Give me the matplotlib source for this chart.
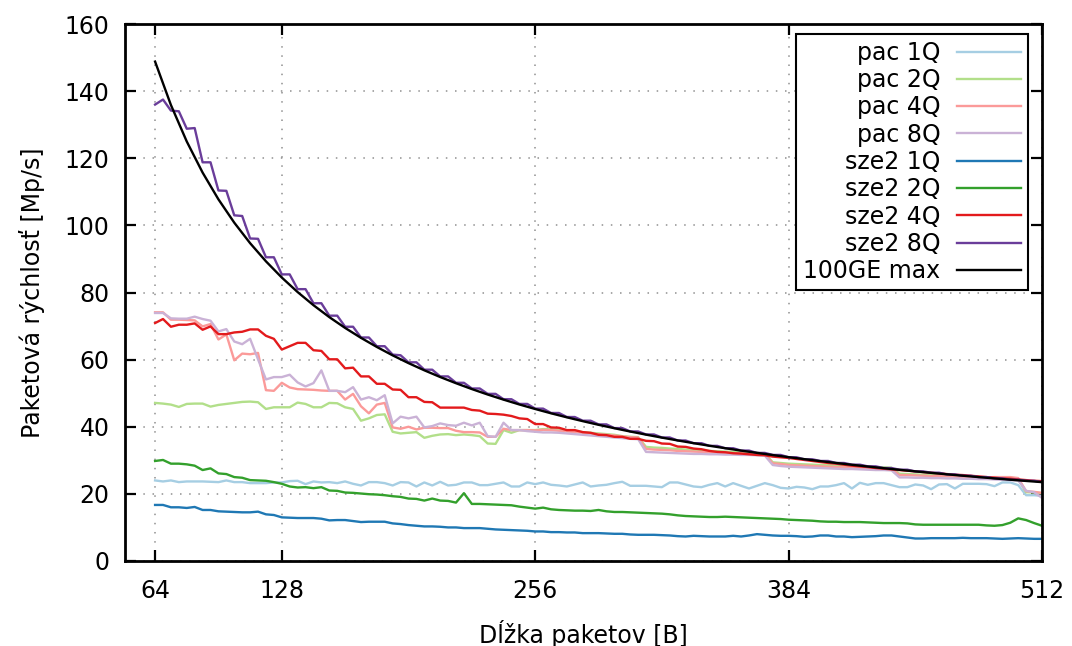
import numpy as np
import matplotlib
matplotlib.use("Agg")
import matplotlib.pyplot as plt

# packet length in bytes, one sample every 4 B
lengths = np.arange(64, 513, 4)

pac_1q = [
    24.0, 23.7, 24.0, 23.5, 23.7, 23.7, 23.7, 23.6, 23.5, 24.0, 23.5, 23.5, 23.2, 23.2, 23.2, 23.4,
    23.4, 23.8, 23.9, 22.9, 23.7, 23.4, 23.5, 23.2, 23.7, 23.0, 22.5, 23.5, 23.5, 23.2, 22.5, 23.5,
    23.4, 22.2, 23.4, 22.5, 23.6, 22.5, 22.7, 23.4, 23.4, 22.6, 22.6, 23.0, 23.4, 22.2, 22.2, 23.4,
    22.9, 23.4, 22.7, 22.5, 22.2, 22.8, 23.4, 22.2, 22.5, 22.7, 23.2, 23.6, 22.4, 22.4, 22.4, 22.2,
    22.0, 23.4, 23.4, 22.8, 22.2, 22.0, 22.7, 23.2, 22.2, 23.2, 22.4, 21.6, 22.4, 23.2, 22.6, 21.8,
    21.6, 22.1, 21.9, 21.4, 22.2, 22.2, 22.6, 23.2, 21.6, 23.3, 22.7, 23.2, 23.2, 22.6, 22.0, 22.0,
    22.8, 22.5, 21.4, 22.8, 22.9, 21.6, 23.0, 23.0, 23.0, 22.9, 22.3, 23.4, 23.4, 22.6, 19.6, 19.6,
    19.4,
]
pac_2q = [
    47.1, 46.9, 46.6, 45.9, 46.8, 46.9, 46.9, 46.0, 46.5, 46.8, 47.1, 47.4, 47.5, 47.3, 45.3, 45.8,
    45.8, 45.8, 47.2, 46.8, 45.8, 45.8, 47.1, 47.0, 45.8, 45.3, 41.8, 42.5, 43.5, 43.7, 38.5, 38.0,
    38.2, 38.4, 36.7, 37.3, 37.7, 37.8, 37.5, 37.7, 37.5, 37.2, 35.0, 34.9, 39.0, 38.2, 39.0, 39.0,
    39.0, 39.3, 39.3, 39.1, 38.8, 38.6, 38.4, 38.2, 38.0, 37.8, 37.6, 37.2, 37.0, 36.9, 34.0, 33.8,
    33.7, 33.5, 33.4, 33.2, 33.1, 33.0, 32.8, 32.7, 32.6, 32.5, 32.4, 32.3, 32.2, 32.0, 29.4, 29.2,
    29.0, 28.9, 28.8, 28.7, 28.6, 28.5, 28.4, 28.3, 28.2, 28.1, 28.0, 27.9, 27.9, 27.8, 26.0, 25.9,
    25.8, 25.7, 25.6, 25.5, 25.4, 25.3, 25.2, 25.1, 25.0, 24.9, 24.8, 24.7, 24.6, 24.4, 20.5, 20.4,
    20.2,
]
pac_4q = [
    74.1, 74.1, 71.9, 71.9, 71.8, 71.7, 69.9, 70.6, 66.0, 67.5, 59.8, 61.8, 61.6, 62.0, 50.9, 50.7,
    53.1, 51.7, 51.2, 51.1, 51.0, 50.8, 50.7, 50.7, 48.1, 49.8, 46.1, 44.0, 46.6, 47.1, 39.8, 39.4,
    40.0, 39.2, 39.7, 39.7, 39.6, 39.6, 38.8, 38.4, 38.4, 38.3, 37.0, 37.0, 39.4, 39.0, 39.0, 39.0,
    38.9, 39.1, 39.0, 38.8, 38.6, 38.4, 38.2, 38.0, 37.8, 37.6, 37.4, 37.1, 36.9, 36.8, 33.4, 33.2,
    33.1, 33.0, 32.8, 32.7, 32.6, 32.5, 32.4, 32.3, 32.2, 32.1, 32.0, 31.9, 31.8, 31.7, 29.1, 28.9,
    28.6, 28.5, 28.4, 28.3, 28.2, 28.1, 28.0, 27.9, 27.9, 27.8, 27.7, 27.6, 27.5, 27.4, 25.6, 25.6,
    25.5, 25.4, 25.3, 25.3, 25.2, 25.1, 25.0, 25.0, 24.9, 24.9, 25.0, 25.0, 25.0, 24.7, 20.8, 20.6,
    20.3,
]
pac_8q = [
    73.9, 73.9, 72.3, 72.2, 72.2, 72.8, 72.1, 71.6, 68.4, 69.1, 65.4, 64.6, 66.2, 60.1, 54.1, 54.8,
    54.8, 55.5, 53.2, 52.0, 53.0, 56.8, 50.7, 50.7, 50.3, 51.8, 48.1, 48.8, 47.9, 49.4, 41.0, 43.0,
    42.5, 43.0, 39.8, 40.2, 41.0, 40.5, 40.3, 41.2, 40.4, 41.2, 37.2, 37.0, 41.2, 39.0, 39.0, 38.7,
    38.5, 38.3, 38.3, 38.2, 38.0, 37.8, 37.6, 37.4, 37.2, 37.0, 36.8, 36.6, 36.4, 36.3, 32.5, 32.4,
    32.3, 32.2, 32.1, 32.0, 31.9, 31.9, 31.8, 31.8, 31.7, 31.7, 31.6, 31.6, 31.5, 31.4, 28.6, 28.3,
    28.1, 28.0, 27.9, 27.8, 27.7, 27.6, 27.5, 27.4, 27.4, 27.3, 27.2, 27.1, 27.1, 27.0, 24.9, 24.9,
    24.8, 24.8, 24.7, 24.7, 24.6, 24.6, 24.5, 24.5, 24.4, 24.4, 24.3, 24.2, 24.1, 24.0, 20.9, 20.5,
    18.8,
]
sze2_1q = [
    16.7, 16.7, 16.0, 16.0, 15.8, 16.1, 15.2, 15.2, 14.8, 14.7, 14.6, 14.5, 14.5, 14.7, 13.9, 13.7,
    13.0, 12.9, 12.8, 12.8, 12.8, 12.6, 12.1, 12.2, 12.2, 11.9, 11.6, 11.7, 11.7, 11.7, 11.2, 11.0,
    10.7, 10.5, 10.3, 10.3, 10.2, 10.0, 10.0, 9.8, 9.8, 9.8, 9.6, 9.4, 9.3, 9.2, 9.1, 9.0,
    8.8, 8.8, 8.6, 8.6, 8.5, 8.5, 8.3, 8.3, 8.3, 8.2, 8.1, 8.1, 7.9, 7.8, 7.8, 7.8,
    7.7, 7.6, 7.4, 7.3, 7.5, 7.4, 7.3, 7.3, 7.3, 7.5, 7.3, 7.6, 8.0, 7.8, 7.6, 7.5,
    7.5, 7.4, 7.2, 7.3, 7.6, 7.6, 7.3, 7.3, 7.1, 7.2, 7.3, 7.4, 7.6, 7.6, 7.3, 7.0,
    6.7, 6.7, 6.8, 6.8, 6.8, 6.8, 6.9, 6.8, 6.8, 6.8, 6.7, 6.6, 6.7, 6.8, 6.7, 6.6,
    6.6,
]
sze2_2q = [
    29.8, 30.1, 29.0, 29.0, 28.8, 28.4, 27.1, 27.6, 26.1, 25.9, 25.0, 24.8, 24.1, 24.0, 23.9, 23.5,
    23.0, 22.2, 21.9, 22.0, 21.7, 22.0, 21.0, 20.9, 20.4, 20.3, 20.1, 19.9, 19.8, 19.6, 19.3, 19.1,
    18.6, 18.5, 18.0, 18.6, 18.0, 17.9, 17.4, 20.2, 17.0, 17.0, 16.9, 16.8, 16.7, 16.6, 16.2, 15.9,
    15.6, 15.9, 15.4, 15.2, 15.1, 15.0, 15.0, 14.9, 15.2, 14.8, 14.6, 14.6, 14.5, 14.4, 14.3, 14.2,
    14.1, 13.9, 13.6, 13.4, 13.3, 13.2, 13.1, 13.1, 13.2, 13.1, 13.0, 12.9, 12.8, 12.7, 12.6, 12.5,
    12.3, 12.2, 12.1, 12.0, 11.8, 11.7, 11.7, 11.6, 11.6, 11.6, 11.5, 11.4, 11.3, 11.3, 11.3, 11.2,
    10.9, 10.8, 10.8, 10.8, 10.8, 10.8, 10.8, 10.8, 10.8, 10.6, 10.5, 10.7, 11.4, 12.7, 12.2, 11.3,
    10.5,
]
sze2_4q = [
    70.9, 72.1, 69.8, 70.4, 70.4, 70.8, 68.9, 69.9, 67.6, 67.6, 68.1, 68.3, 69.0, 69.0, 67.1, 66.2,
    63.0, 64.0, 65.0, 65.0, 62.8, 62.6, 60.1, 60.1, 57.4, 57.6, 55.0, 55.0, 52.8, 52.8, 51.1, 51.0,
    48.8, 48.8, 47.4, 47.3, 45.7, 45.7, 45.7, 45.7, 45.0, 44.8, 43.9, 43.8, 43.6, 43.2, 42.5, 42.3,
    40.8, 40.8, 39.8, 39.7, 39.0, 39.0, 38.4, 38.2, 37.6, 37.5, 37.0, 37.0, 36.4, 36.4, 35.8, 35.7,
    35.0, 34.9, 34.1, 34.0, 33.5, 33.3, 32.8, 32.5, 32.4, 32.1, 32.0, 31.8, 31.6, 31.5, 31.1, 30.9,
    30.7, 30.4, 30.1, 29.8, 29.5, 29.2, 29.0, 28.7, 28.4, 28.2, 28.0, 27.7, 27.5, 27.3, 27.1, 26.9,
    26.7, 26.5, 26.3, 26.1, 25.9, 25.7, 25.6, 25.4, 25.2, 25.0, 24.8, 24.6, 24.5, 24.3, 24.1, 23.9,
    23.8,
]
sze2_8q = [
    136.0, 137.5, 134.2, 134.0, 128.8, 129.0, 118.8, 118.8, 110.4, 110.3, 103.0, 102.8, 96.1, 96.0, 90.5, 90.5,
    85.4, 85.4, 81.0, 81.0, 76.8, 76.8, 73.1, 73.1, 69.8, 69.8, 66.6, 66.6, 64.0, 64.0, 61.5, 61.3,
    59.2, 59.2, 57.0, 57.0, 55.0, 55.0, 53.1, 53.1, 51.4, 51.4, 49.8, 49.8, 48.2, 48.2, 46.8, 46.8,
    45.4, 45.4, 44.1, 44.1, 42.9, 42.9, 41.8, 41.8, 40.7, 40.7, 39.6, 39.6, 38.6, 38.6, 37.7, 37.7,
    36.8, 36.8, 35.9, 35.9, 35.1, 35.1, 34.3, 34.3, 33.6, 33.6, 32.9, 32.9, 32.2, 32.2, 31.6, 31.6,
    30.9, 30.9, 30.3, 30.3, 29.8, 29.8, 29.2, 29.2, 28.7, 28.7, 28.2, 28.2, 27.7, 27.7, 27.2, 27.2,
    26.7, 26.7, 26.3, 26.3, 25.8, 25.8, 25.4, 25.4, 25.0, 25.0, 24.6, 24.6, 24.2, 24.2, 23.9, 23.9,
    23.5,
]

# theoretical 100GE line rate, every 8 B
max_lengths = np.arange(64, 513, 8)
max_100ge = [
    148.81, 135.87, 125.00, 115.74, 107.76, 100.81, 94.70, 89.29, 84.46, 80.13,
    76.22, 72.67, 69.44, 66.49, 63.78, 61.27, 58.96, 56.82, 54.82, 52.97,
    51.23, 49.60, 48.08, 46.64, 45.29, 44.01, 42.81, 41.67, 40.58, 39.56,
    38.58, 37.65, 36.76, 35.92, 35.11, 34.34, 33.60, 32.89, 32.22, 31.57,
    30.94, 30.34, 29.76, 29.21, 28.67, 28.15, 27.65, 27.17, 26.71, 26.26,
    25.83, 25.41, 25.00, 24.61, 24.22, 23.85, 23.50,
]

series = [
    ("pac 1Q", pac_1q, "#a6cee3"),
    ("pac 2Q", pac_2q, "#b2df8a"),
    ("pac 4Q", pac_4q, "#fb9a99"),
    ("pac 8Q", pac_8q, "#cab2d6"),
    ("sze2 1Q", sze2_1q, "#1f78b4"),
    ("sze2 2Q", sze2_2q, "#33a02c"),
    ("sze2 4Q", sze2_4q, "#e31a1c"),
    ("sze2 8Q", sze2_8q, "#6a3d9a"),
]

plt.rcParams['font.family'] = ['DejaVu Sans']
plt.rcParams['font.size'] = 17

fig = plt.figure(figsize=(10.72, 6.46), dpi=100)
ax = fig.add_axes([0.1166, 0.1316, 0.8554, 0.8312])

for name, vals, col in series:
    ax.plot(lengths, vals, color=col, lw=1.7, label=name)
ax.plot(max_lengths, max_100ge, color="black", lw=1.7, label="100GE max")

ax.set_xlim(48.8, 512)
ax.set_ylim(0, 160)
ax.set_xticks([64, 128, 256, 384, 512])
ax.set_yticks(np.arange(0, 161, 20))
ax.tick_params(axis="both", direction="in", length=8, width=1.6, top=True, right=True, labelsize=17)
ax.tick_params(axis="x", pad=13)
ax.tick_params(axis="y", pad=11)
ax.grid(True, color="#909090", linestyle=(0, (1, 5)), lw=1.1)
for sp in ax.spines.values():
    sp.set_linewidth(2.0)

ax.set_xlabel("Dĺžka paketov [B]", labelpad=12)
ax.set_ylabel("Paketová rýchlosť [Mp/s]", labelpad=14)

leg = ax.legend(loc="upper right", bbox_to_anchor=(0.9845, 0.982), markerfirst=False,
                fancybox=False, framealpha=1, edgecolor="black", handlelength=2.7,
                labelspacing=0.14, borderpad=0.3, handletextpad=0.7, borderaxespad=0)
leg.get_frame().set_linewidth(1.5)

fig.savefig("out.png", dpi=100)
